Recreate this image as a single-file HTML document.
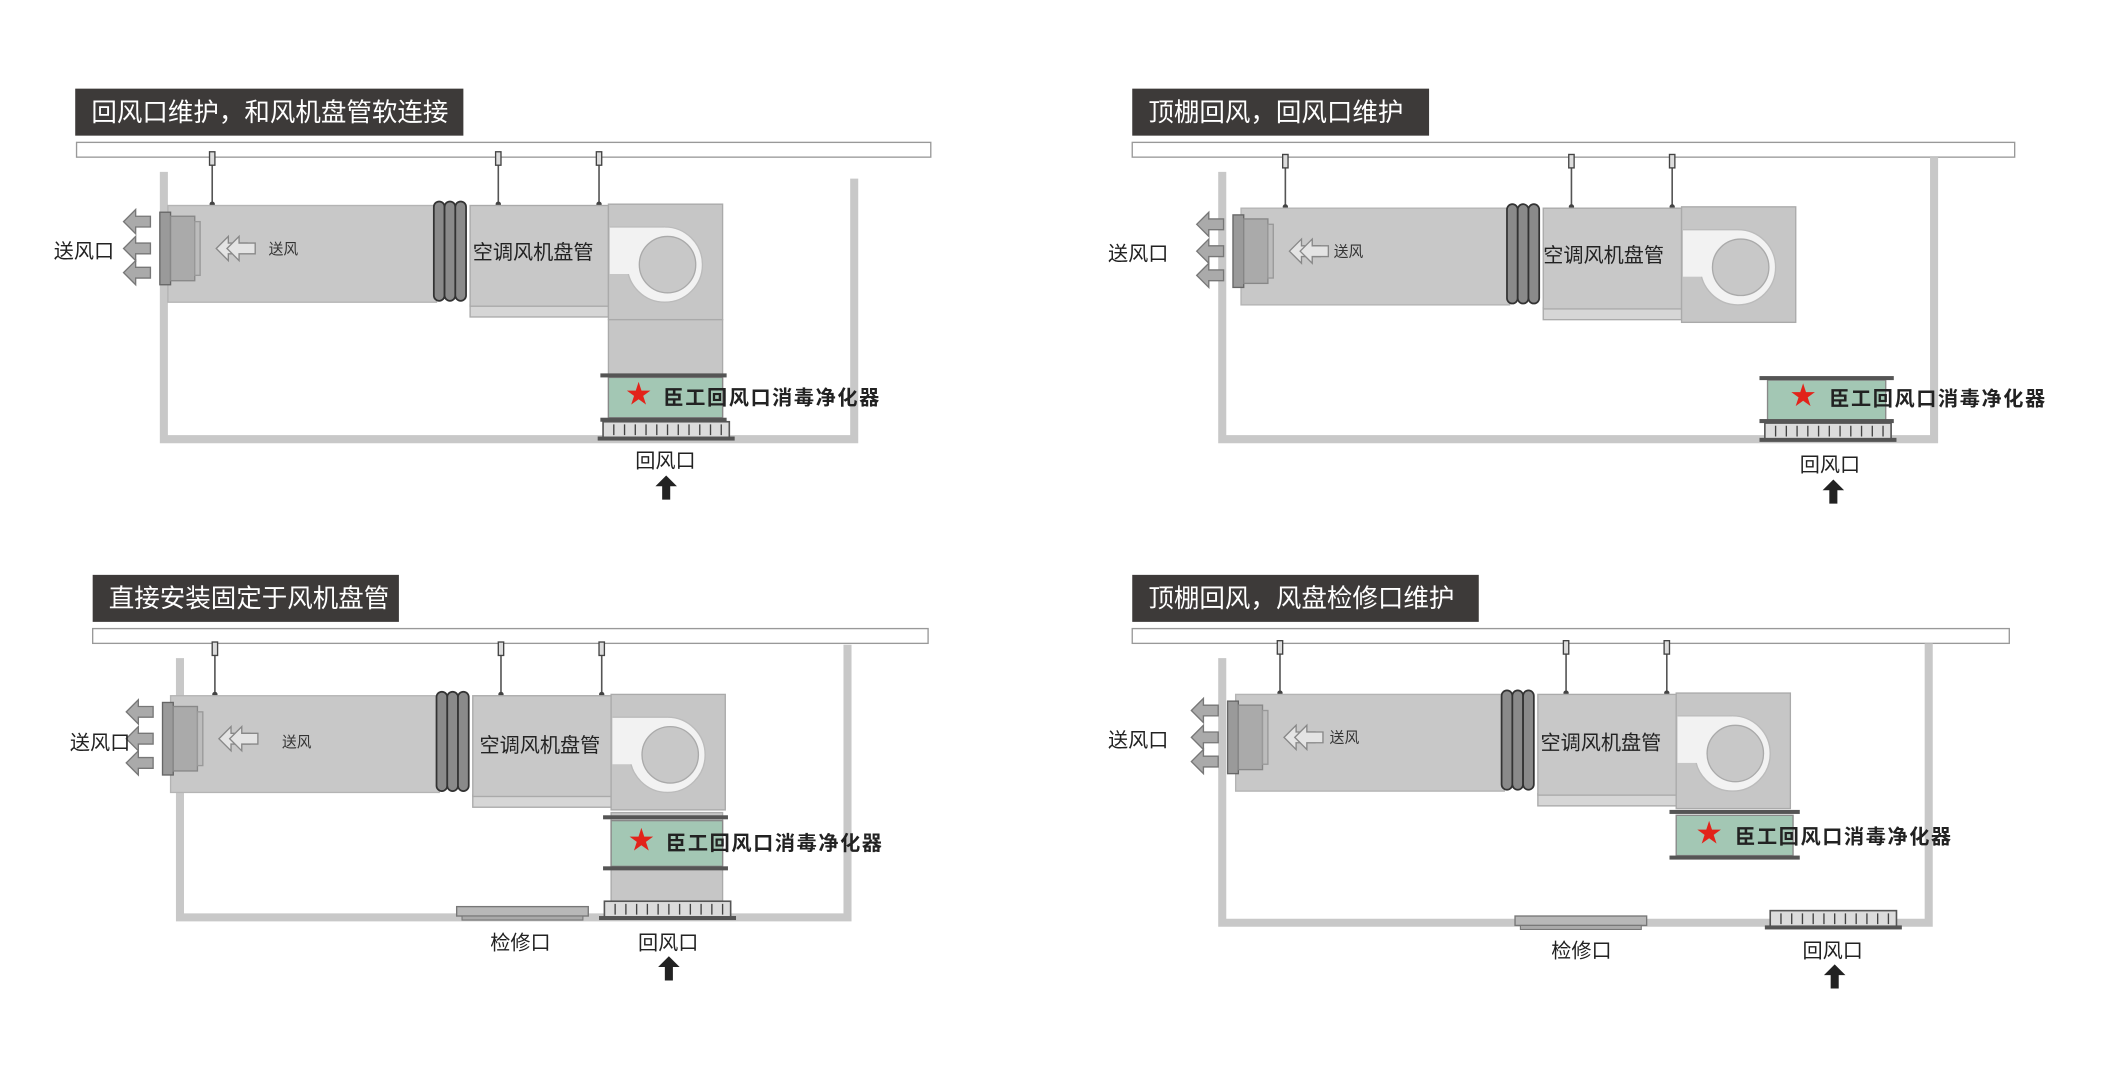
<!DOCTYPE html>
<html><head><meta charset="utf-8"><style>
html,body{margin:0;padding:0;background:#fff;}
svg{display:block;}
text{font-family:"Liberation Sans","Noto Sans CJK SC",sans-serif;}
.t{fill:#fff;font-size:19px;}
.l{fill:#222;font-size:15px;}
.s{fill:#333;font-size:11px;}
.b{fill:#222;font-size:15px;font-weight:bold;letter-spacing:1.2px;}
.st{fill:#e2231a;font-size:19px;}
</style></head><body>
<svg width="2106" height="1078" viewBox="0 0 1568 802.6" preserveAspectRatio="none" xmlns="http://www.w3.org/2000/svg">
<defs>
<g id="fcu">
  <line x1="33" y1="-37" x2="33" y2="0" stroke="#555" stroke-width="1.2"/>
  <rect x="31" y="-40" width="4" height="10" fill="#ddd" stroke="#444" stroke-width="1"/>
  <circle cx="33" cy="-1" r="2" fill="#444"/>
  <line x1="246" y1="-37" x2="246" y2="0" stroke="#555" stroke-width="1.2"/>
  <rect x="244" y="-40" width="4" height="10" fill="#ddd" stroke="#444" stroke-width="1"/>
  <circle cx="246" cy="-1" r="2" fill="#444"/>
  <line x1="321" y1="-37" x2="321" y2="0" stroke="#555" stroke-width="1.2"/>
  <rect x="319" y="-40" width="4" height="10" fill="#ddd" stroke="#444" stroke-width="1"/>
  <circle cx="321" cy="-1" r="2" fill="#444"/>
  <rect x="0" y="0" width="200" height="72" fill="#c8c8c8" stroke="#b4b4b4"/>
  <rect x="-6" y="5" width="8" height="54" fill="#9a9a9a" stroke="#666"/>
  <rect x="2" y="8" width="18" height="48" fill="#aaa" stroke="#888"/>
  <rect x="20" y="12" width="4" height="40" fill="#bcbcbc" stroke="#999"/>
  <path d="M-33,12 l9,-9 v5 h11 v8 h-11 v5 z" fill="#aaa" stroke="#777"/>
  <path d="M-33,32 l9,-9 v5 h11 v8 h-11 v5 z" fill="#aaa" stroke="#777"/>
  <path d="M-33,50 l9,-9 v5 h11 v8 h-11 v5 z" fill="#aaa" stroke="#777"/>
  <path d="M36,32 l9,-9 v5 h14 v8 h-14 v5 z" fill="#e4e4e4" stroke="#888"/>
  <path d="M44,32 l9,-9 v5 h12 v8 h-12 v5 z" fill="#e4e4e4" stroke="#888"/>
  <rect x="225" y="74" width="103" height="9" fill="#d6d6d6" stroke="#aaa"/>
  <rect x="225" y="0" width="103" height="75" fill="#c8c8c8" stroke="#aaa"/>
  <rect x="198" y="-3" width="8" height="74" rx="4" fill="#8a8a8a" stroke="#333" stroke-width="1.3"/>
  <rect x="206" y="-3" width="8" height="74" rx="4" fill="#8a8a8a" stroke="#333" stroke-width="1.3"/>
  <rect x="214" y="-3" width="8" height="74" rx="4" fill="#8a8a8a" stroke="#333" stroke-width="1.3"/>
  <rect x="328" y="-1" width="85" height="86" fill="#c6c6c6" stroke="#aaa"/>
  <circle cx="370" cy="44" r="28" fill="#f2f2f2" stroke="#bbb"/>
  <rect x="329" y="16" width="41" height="35" fill="#f2f2f2"/>
  <line x1="329" y1="16" x2="370" y2="16" stroke="#bbb"/>
  <circle cx="372" cy="44" r="21" fill="#c8c8c8" stroke="#aaa"/>
</g>
<g id="grille">
  <rect x="0" y="0" width="94" height="12" fill="#dcdcdc" stroke="#555" stroke-width="1.2"/>
  <path d="M8,2v8M16,2v8M24,2v8M32,2v8M40,2v8M48,2v8M56,2v8M64,2v8M72,2v8M80,2v8M88,2v8" stroke="#444" stroke-width="1"/>
  <rect x="-4" y="11" width="102" height="3" fill="#555"/>
</g>
<g id="panel">
  <rect x="0" y="0" width="98" height="7" fill="#b8b8b8" stroke="#777"/>
  <rect x="4" y="7" width="90" height="3" fill="#aaa" stroke="#777" stroke-width="0.8"/>
</g>
<path id="up" d="M0,0 l-8,8 h5 v10 h6 v-10 h5 z" fill="#222"/>
</defs>

<!-- Panel 1 -->
<rect x="56" y="66" width="289" height="35" fill="#3d3a39"/>
<text class="t" x="68" y="90">回风口维护，和风机盘管软连接</text>
<rect x="57" y="106" width="636" height="11" fill="#fff" stroke="#999"/>
<path d="M122,128 V327 H636 V133" fill="none" stroke="#c8c8c8" stroke-width="6"/>
<use href="#fcu" x="125" y="153"/>
<rect x="453" y="238" width="85" height="76" fill="#c6c6c6" stroke="#aaa"/>
<rect x="453" y="281" width="85" height="30" fill="#a3c7b4" stroke="#888"/>
<rect x="447" y="278" width="94" height="3" fill="#555"/>
<rect x="447" y="311" width="94" height="3" fill="#555"/>
<use href="#grille" x="449" y="314"/>
<text class="st" x="466" y="300">★</text>
<text class="b" x="494" y="301">臣工回风口消毒净化器</text>
<text class="l" x="40" y="192">送风口</text>
<text class="s" x="200" y="189">送风</text>
<text class="l" x="352" y="193">空调风机盘管</text>
<text class="l" x="473" y="348">回风口</text>
<use href="#up" x="496" y="354"/>

<!-- Panel 2 -->
<rect x="843" y="66" width="221" height="35" fill="#3d3a39"/>
<text class="t" x="855" y="90">顶棚回风，回风口维护</text>
<rect x="843" y="106" width="657" height="11" fill="#fff" stroke="#999"/>
<path d="M910,128 V327 H1440 V117" fill="none" stroke="#c8c8c8" stroke-width="6"/>
<use href="#fcu" x="924" y="155"/>
<rect x="1316" y="283" width="88" height="30" fill="#a3c7b4" stroke="#888"/>
<rect x="1310" y="280" width="100" height="3" fill="#555"/>
<rect x="1310" y="312" width="100" height="3" fill="#555"/>
<use href="#grille" x="1314" y="315"/>
<text class="st" x="1333" y="301">★</text>
<text class="b" x="1362" y="302">臣工回风口消毒净化器</text>
<text class="l" x="825" y="194">送风口</text>
<text class="s" x="993" y="191">送风</text>
<text class="l" x="1149" y="195">空调风机盘管</text>
<text class="l" x="1340" y="351">回风口</text>
<use href="#up" x="1365" y="357"/>

<!-- Panel 3 -->
<rect x="69" y="428" width="228" height="35" fill="#3d3a39"/>
<text class="t" x="81" y="452">直接安装固定于风机盘管</text>
<rect x="69" y="468" width="622" height="11" fill="#fff" stroke="#999"/>
<path d="M134,490 V683 H631 V480" fill="none" stroke="#c8c8c8" stroke-width="6"/>
<use href="#fcu" x="127" y="518"/>
<rect x="455" y="605" width="83" height="68" fill="#c6c6c6" stroke="#aaa"/>
<rect x="455" y="611" width="83" height="34" fill="#a3c7b4" stroke="#888"/>
<rect x="449" y="607" width="93" height="3" fill="#555"/>
<rect x="449" y="645" width="93" height="3" fill="#555"/>
<use href="#grille" x="450" y="671"/>
<use href="#panel" x="340" y="675"/>
<text class="st" x="468" y="632">★</text>
<text class="b" x="496" y="633">臣工回风口消毒净化器</text>
<text class="l" x="52" y="558">送风口</text>
<text class="s" x="210" y="556">送风</text>
<text class="l" x="357" y="560">空调风机盘管</text>
<text class="l" x="365" y="707">检修口</text>
<text class="l" x="475" y="707">回风口</text>
<use href="#up" x="498" y="712"/>

<!-- Panel 4 -->
<rect x="843" y="428" width="258" height="35" fill="#3d3a39"/>
<text class="t" x="855" y="452">顶棚回风，风盘检修口维护</text>
<rect x="843" y="468" width="653" height="11" fill="#fff" stroke="#999"/>
<path d="M910,490 V687 H1436 V479" fill="none" stroke="#c8c8c8" stroke-width="6"/>
<use href="#fcu" x="920" y="517"/>
<rect x="1248" y="607" width="87" height="30" fill="#a3c7b4" stroke="#888"/>
<rect x="1243" y="603" width="97" height="3" fill="#555"/>
<rect x="1243" y="637" width="97" height="3" fill="#555"/>
<use href="#grille" x="1318" y="678"/>
<use href="#panel" x="1128" y="682"/>
<text class="st" x="1263" y="627">★</text>
<text class="b" x="1292" y="628">臣工回风口消毒净化器</text>
<text class="l" x="825" y="556">送风口</text>
<text class="s" x="990" y="553">送风</text>
<text class="l" x="1147" y="558">空调风机盘管</text>
<text class="l" x="1155" y="713">检修口</text>
<text class="l" x="1342" y="713">回风口</text>
<use href="#up" x="1366" y="718"/>
</svg>
</body></html>
